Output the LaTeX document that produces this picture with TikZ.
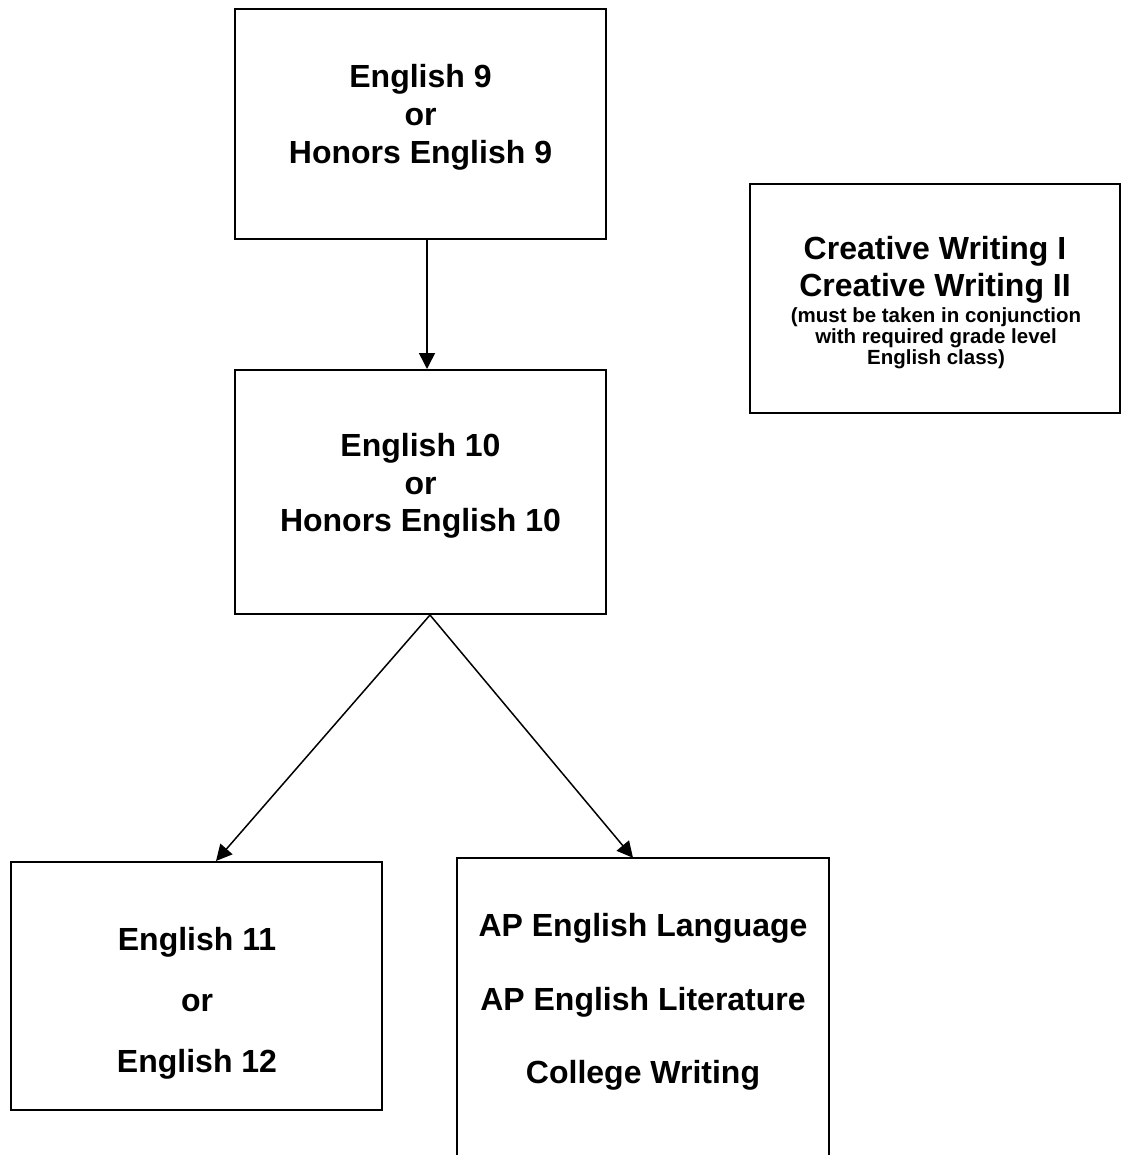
\documentclass[tikz,border=0pt]{standalone}
\usepackage{fontspec}
\setmainfont{Liberation Sans}
\usetikzlibrary{arrows.meta}
\begin{document}
\begin{tikzpicture}[x=1pt,y=-1pt,
  box/.style={draw,line width=2pt,inner sep=0pt},
  big/.style={font=\bfseries\fontsize{32}{#1}\selectfont,align=center,inner sep=0pt},
  small/.style={font=\bfseries\fontsize{20.5}{21}\selectfont,align=center,inner sep=0pt},
  link/.style={line width=1.5pt,-{Triangle[length=16pt,width=16pt]}}]
\useasboundingbox (0,0) rectangle (1121,1155);
% course boxes
\node[box,minimum width=371pt,minimum height=230pt] (e9) at (420.5,124) {};
\node[box,minimum width=371pt,minimum height=244pt] (e10) at (420.5,492) {};
\node[box,minimum width=370pt,minimum height=229pt] (cw) at (935,298.5) {};
\node[box,minimum width=371pt,minimum height=248pt] (e11) at (196.5,986) {};
% AP box runs off the bottom edge: frame drawn open at the bottom
\node[inner sep=0pt,minimum width=372pt,minimum height=297pt] (ap) at (643,1006.5) {};
\draw[line width=2pt] (ap.south west) -- (ap.north west) -- (ap.north east) -- (ap.south east);
% labels
\node[big=38] (t9) at (420.5,117) {English 9\\or\\Honors English 9};
\node[big=37.5] (t10) at (420.5,486) {English 10\\or\\Honors English 10};
\node[big=37] (tcw) at (935,270) {Creative Writing I\\Creative Writing II};
\node[small] (tnote) at (936,338) {(must be taken in conjunction\\with required grade level\\English class)};
\node[big=61] (t11) at (197,1003) {English 11\\or\\English 12};
\node[big=73.5] (tap) at (643,1002) {AP English Language\\AP English Literature\\College Writing};
% connectors
\draw[link] ([xshift=6.5pt]e9.south) -- ([xshift=6.5pt]e10.north);
\draw[link] ([xshift=9.5pt]e10.south) -- ([xshift=19.5pt]e11.north);
\draw[link] ([xshift=9.5pt]e10.south) -- ([xshift=-10pt]ap.north);
\end{tikzpicture}
\end{document}
